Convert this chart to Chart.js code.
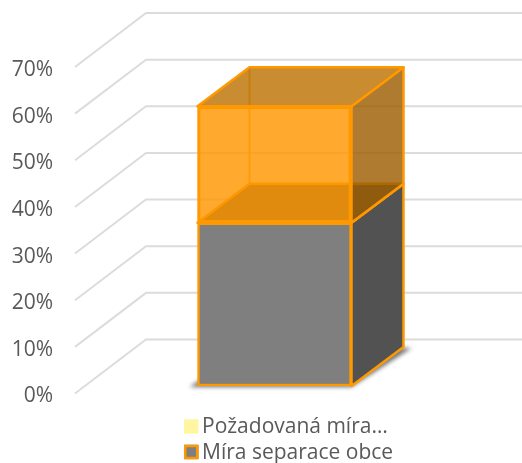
<!DOCTYPE html>
<html>
<head>
<meta charset="utf-8">
<script src="https://cdn.jsdelivr.net/npm/chart.js@4"></script>
<style>
  html, body { margin: 0; padding: 0; background: #fff; }
  #box { width: 522px; height: 463px; }
</style>
</head>
<body>
<div id="box"><canvas id="graf"></canvas></div>
<script>
const categories = ['Obec'];
const seriesNames = ['Míra separace obce', 'Požadovaná míra…'];
const miraSeparace = [35];
const pozadovanaMira = [25];
const yMax = 70;
const yStep = 10;

const ORANGE = '#FF9900';
const GRID = '#DCDCDC';
const TEXT = '#595959';

// 3D look: wall depth and bar depth, Excel style
const wall = { dx: 71, dy: -54 };
const barDepth = { dx: 52, dy: -39 };
const barShift = { dx: 11.5, dy: -7.5 };

const poly = (ctx, pts, fill, stroke) => {
  ctx.beginPath();
  pts.forEach((p, i) => i ? ctx.lineTo(p[0], p[1]) : ctx.moveTo(p[0], p[1]));
  ctx.closePath();
  if (fill) { ctx.fillStyle = fill; ctx.fill(); }
  if (stroke) { ctx.strokeStyle = stroke; ctx.lineWidth = 2.5; ctx.lineJoin = 'round'; ctx.stroke(); }
};

const back = (p) => [p[0] + barDepth.dx, p[1] + barDepth.dy];

const threeD = {
  id: 'threeD',
  afterLayout(chart) {
    // stacked legend under the plot
    const l = chart.legend;
    const w = l.width;
    l.left = 186.5; l.right = l.left + w;
    l.top = 412; l.bottom = 520;
  },
  beforeDatasetsDraw(chart) {
    const { ctx, chartArea: a, scales: { y } } = chart;

    // walls
    ctx.save();
    ctx.strokeStyle = GRID;
    ctx.lineWidth = 2;
    y.ticks.forEach((t) => {
      const py = y.getPixelForValue(t.value);
      ctx.beginPath();
      ctx.moveTo(a.left, py);
      ctx.lineTo(a.left + wall.dx, py + wall.dy);
      ctx.lineTo(chart.width, py + wall.dy);
      ctx.stroke();
    });
    ctx.restore();

    const gray = chart.getDatasetMeta(0).data[0];
    const orange = chart.getDatasetMeta(1).data[0];
    const sx = barShift.dx, sy = barShift.dy;
    const L = gray.x - gray.width / 2 + sx;
    const R = gray.x + gray.width / 2 + sx;
    const base = gray.base + sy;
    const mid = gray.y + sy;
    const top = orange.y + sy;

    // floor shadow
    ctx.save();
    ctx.filter = 'blur(2px)';
    poly(ctx, [[L - 8, base + 1], [R, base + 1], [R + barDepth.dx + 8, base + barDepth.dy + 1], [L + barDepth.dx, base + barDepth.dy]], 'rgba(0,0,0,0.55)');
    ctx.restore();

    // gray block: right side and its top
    poly(ctx, [[R, base], back([R, base]), back([R, mid]), [R, mid]], '#525252', ORANGE);
    poly(ctx, [[L, mid], [R, mid], back([R, mid]), back([L, mid])], '#55584E', ORANGE);

    // orange block seen through: back edges, right side and lid
    ctx.save();
    ctx.strokeStyle = 'rgba(255,153,0,0.75)';
    ctx.lineWidth = 2;
    ctx.beginPath();
    ctx.moveTo(...back([L, mid]));
    ctx.lineTo(...back([L, top]));
    ctx.stroke();
    ctx.restore();
    poly(ctx, [[R, mid], back([R, mid]), back([R, top]), [R, top]], 'rgba(157,93,0,0.81)', ORANGE);
    poly(ctx, [[L, top], [R, top], back([R, top]), back([L, top])], 'rgba(189,113,0,0.81)', ORANGE);

    // front faces come from Chart.js, moved onto the bar plane
    ctx.save();
    ctx.translate(sx, sy);
  },
  afterDatasetsDraw(chart) {
    chart.ctx.restore();
  },
  afterDraw(chart) {
    const { ctx, legend: l } = chart;
    const rowH = 25.5;
    const x = 184, size = 14.5;
    const y1 = l.top + 7.2, y2 = y1 + rowH;
    ctx.save();
    ctx.fillStyle = '#FFF5A3';
    ctx.fillRect(x, y1, size, size);
    ctx.fillStyle = '#7F7F7F';
    ctx.fillRect(x, y2, size, size);
    ctx.strokeStyle = ORANGE;
    ctx.lineWidth = 2.5;
    ctx.strokeRect(x + 1.2, y2 + 1.2, size - 2.4, size - 2.4);
    ctx.restore();
  }
};

new Chart(document.getElementById('graf'), {
  type: 'bar',
  plugins: [threeD],
  data: {
    labels: categories,
    datasets: [
      { label: seriesNames[0], data: miraSeparace, backgroundColor: '#7F7F7F', borderColor: ORANGE, borderWidth: 2.5, borderSkipped: false },
      { label: seriesNames[1], data: pozadovanaMira, backgroundColor: 'rgba(255,150,0,0.82)', borderColor: ORANGE, borderWidth: 2.5, borderSkipped: false }
    ]
  },
  options: {
    animation: false,
    responsive: true,
    maintainAspectRatio: false,
    layout: { padding: { left: 10, right: 71, top: 67, bottom: 69.5 } },
    datasets: { bar: { barThickness: 154 } },
    scales: {
      x: { stacked: true, display: false },
      y: {
        stacked: true,
        min: 0,
        max: yMax,
        afterFit(s) { s.width = 65; },
        ticks: {
          stepSize: yStep,
          padding: 22,
          labelOffset: 3,
          color: TEXT,
          font: { family: '"Open Sans"', size: 21 },
          callback: (v) => v + '%'
        },
        grid: { display: false, drawTicks: false },
        border: { display: false }
      }
    },
    plugins: {
      tooltip: { enabled: false },
      legend: {
        display: true,
        position: 'chartArea',
        align: 'start',
        reverse: true,
        labels: {
          boxWidth: 0,
          padding: 5,
          color: TEXT,
          font: { family: '"Open Sans"', size: 21 }
        }
      }
    }
  }
});
</script>
</body>
</html>
